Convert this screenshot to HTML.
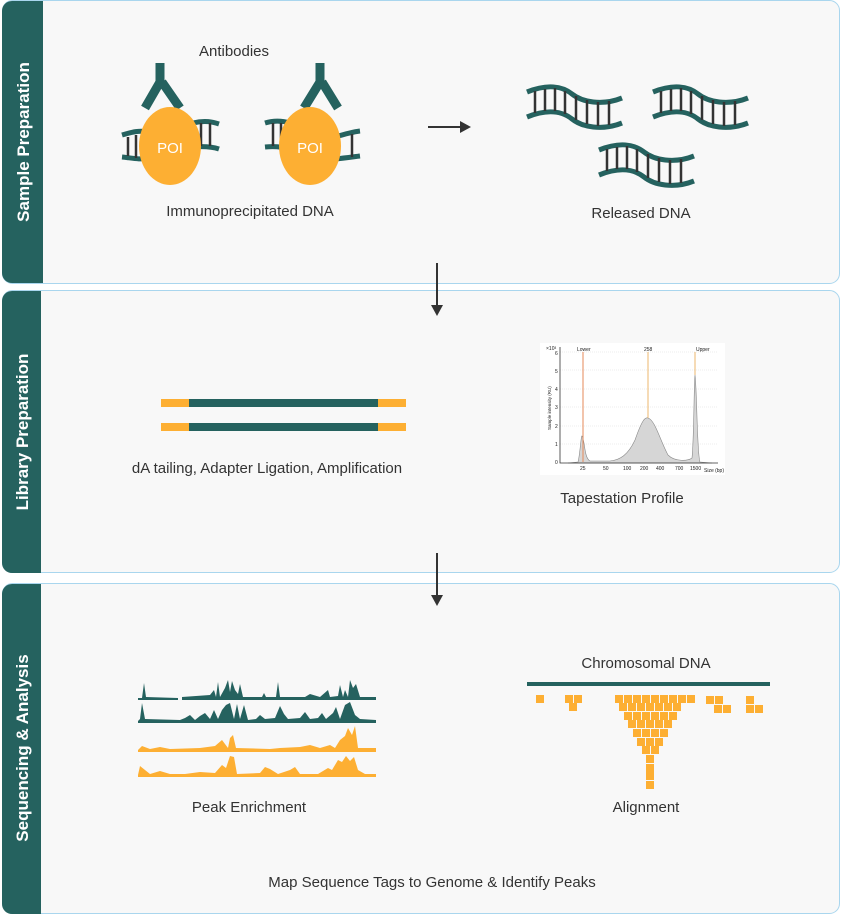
<!DOCTYPE html>
<html><head><meta charset="utf-8"><style>
body{margin:0;background:#fff;width:841px;height:915px;overflow:hidden;font-family:"Liberation Sans",sans-serif}
svg text{font-family:"Liberation Sans",sans-serif}
</style></head><body>
<svg width="841" height="915" viewBox="0 0 841 915" xmlns="http://www.w3.org/2000/svg">
<defs>
<g id="dna">
<path d="M0,8 C20,0 35,2 45,10 S75,22 95,14" fill="none" stroke="#25625f" stroke-width="5"/>
<path d="M0,33 C20,25 35,27 45,35 S75,47 95,39" fill="none" stroke="#25625f" stroke-width="5"/>
<g stroke="#333" stroke-width="2.5">
<line x1="8" y1="7" x2="8" y2="29"/><line x1="18" y1="5" x2="18" y2="27"/><line x1="28" y1="4" x2="28" y2="27"/><line x1="38" y1="7" x2="38" y2="30"/><line x1="49" y1="12" x2="49" y2="36"/><line x1="60" y1="16" x2="60" y2="40"/><line x1="71" y1="18" x2="71" y2="42"/><line x1="82" y1="17" x2="82" y2="41"/>
</g></g>
</defs>
<!-- panels -->
<g stroke="#a9d6ee" stroke-width="1" fill="#f8f8f8">
<rect x="2.5" y="0.5" width="837" height="283" rx="10"/>
<rect x="2.5" y="290.5" width="837" height="282" rx="10"/>
<rect x="2.5" y="583.5" width="837" height="330" rx="10"/>
</g>
<g fill="#25625f">
<path d="M12,1 H43 V283 H12 A10,10 0 0 1 2,273 V11 A10,10 0 0 1 12,1Z"/>
<path d="M12,291 H41 V573 H12 A10,10 0 0 1 2,563 V301 A10,10 0 0 1 12,291Z"/>
<path d="M12,584 H41 V914 H12 A10,10 0 0 1 2,904 V594 A10,10 0 0 1 12,584Z"/>
</g>
<g fill="#fff" font-weight="bold" font-size="17" text-anchor="middle">
<text transform="translate(29,142) rotate(-90)">Sample Preparation</text>
<text transform="translate(28,432) rotate(-90)">Library Preparation</text>
<text transform="translate(28,748) rotate(-90)">Sequencing &amp; Analysis</text>
</g>
<!-- sample prep -->
<g fill="#333" font-size="15" text-anchor="middle">
<text x="234" y="56">Antibodies</text>
<text x="250" y="216">Immunoprecipitated DNA</text>
<text x="641" y="218">Released DNA</text>
<text x="267" y="473">dA tailing, Adapter Ligation, Amplification</text>
<text x="622" y="503">Tapestation Profile</text>
<text x="249" y="812">Peak Enrichment</text>
<text x="646" y="812">Alignment</text>
<text x="646" y="668">Chromosomal DNA</text>
<text x="432" y="887">Map Sequence Tags to Genome &amp; Identify Peaks</text>
</g>
<!-- antibody complexes -->
<g id="c1">
<path d="M122,135 C132,132 140,130 148,132 M122,157 C132,158 140,160 148,158" stroke="#25625f" stroke-width="5" fill="none"/>
<path d="M128,137 V156 M136,135 V158" stroke="#333" stroke-width="2.5"/>
<path d="M193,123 C205,120 213,122 219,124 M193,147 C205,146 213,147 219,149" stroke="#25625f" stroke-width="5" fill="none"/>
<path d="M201,123 V146 M210,123 V146" stroke="#333" stroke-width="2.5"/>
<path d="M160,63 V82 L145,108 M162,82 L180,108" stroke="#25625f" stroke-width="9" fill="none"/>
<ellipse cx="170" cy="146" rx="31" ry="39" fill="#fdaf33"/>
<text x="170" y="153" fill="#fff" font-size="15" text-anchor="middle">POI</text>
</g>
<g>
<path d="M265,123 C275,120 283,121 290,123 M265,147 C275,146 283,147 290,149" stroke="#25625f" stroke-width="5" fill="none"/>
<path d="M273,123 V146 M281,123 V146" stroke="#333" stroke-width="2.5"/>
<path d="M335,137 C345,134 352,132 360,131 M335,159 C345,158 352,157 360,156" stroke="#25625f" stroke-width="5" fill="none"/>
<path d="M352,134 V157" stroke="#333" stroke-width="2.5"/>
<path d="M320,63 V82 L304,108 M322,82 L338,108" stroke="#25625f" stroke-width="9" fill="none"/>
<ellipse cx="310" cy="146" rx="31" ry="39" fill="#fdaf33"/>
<text x="310" y="153" fill="#fff" font-size="15" text-anchor="middle">POI</text>
</g>
<!-- arrows -->
<g stroke="#333" stroke-width="2" fill="#333">
<line x1="428" y1="127" x2="462" y2="127"/><path d="M471,127 L460,121 L460,133Z" stroke="none"/>
<line x1="437" y1="263" x2="437" y2="308"/><path d="M437,316 L431,305 L443,305Z" stroke="none"/>
<line x1="437" y1="553" x2="437" y2="598"/><path d="M437,606 L431,595 L443,595Z" stroke="none"/>
</g>
<use href="#dna" x="527" y="84"/>
<use href="#dna" x="653" y="84"/>
<use href="#dna" x="599" y="142"/>
<!-- library -->
<g>
<rect x="161" y="399" width="245" height="8" fill="#25625f"/>
<rect x="161" y="399" width="28" height="8" fill="#fdaf33"/><rect x="378" y="399" width="28" height="8" fill="#fdaf33"/>
<rect x="161" y="423" width="245" height="8" fill="#25625f"/>
<rect x="161" y="423" width="28" height="8" fill="#fdaf33"/><rect x="378" y="423" width="28" height="8" fill="#fdaf33"/>
</g>
<!-- tapestation -->
<g font-size="5" fill="#222">
<rect x="540" y="343" width="185" height="132" fill="#fff"/>
<g stroke="#ddd" stroke-width="0.5" stroke-dasharray="1,1">
<line x1="560" y1="352" x2="718" y2="352"/><line x1="560" y1="370" x2="718" y2="370"/><line x1="560" y1="389" x2="718" y2="389"/><line x1="560" y1="407" x2="718" y2="407"/><line x1="560" y1="426" x2="718" y2="426"/><line x1="560" y1="444" x2="718" y2="444"/>
</g>
<path d="M568,463 L578,462 C580,455 581,435 582,436 C585,440 584,458 590,461 L610,461 C620,460 628,455 635,440 C642,420 645,417 648,418 C655,420 660,440 668,455 C675,462 688,461 692,458 C694,440 694,380 695,375 C697,390 697,455 700,462 L712,463Z" fill="#d6d6d6" stroke="#888" stroke-width="0.6"/>
<line x1="583" y1="352" x2="583" y2="462" stroke="#e58a5a" stroke-width="1"/>
<line x1="648" y1="352" x2="648" y2="418" stroke="#e8a54a" stroke-width="0.8"/>
<line x1="695" y1="352" x2="695" y2="375" stroke="#e8a54a" stroke-width="0.8"/>
<path d="M560,347 V463 H718" fill="none" stroke="#333" stroke-width="0.8"/>
<text x="577" y="351">Lower</text><text x="644" y="351">258</text><text x="696" y="351">Upper</text>
<text x="546" y="350">×10³</text>
<text x="555" y="355">6</text><text x="555" y="373">5</text><text x="555" y="391">4</text><text x="555" y="409">3</text><text x="555" y="428">2</text><text x="555" y="446">1</text><text x="555" y="464">0</text>
<text transform="translate(551,430) rotate(-90)" font-size="4.5">Sample intensity (RU)</text>
<text x="704" y="472">Size (bp)</text>
<text x="580" y="470">25</text><text x="603" y="470">50</text><text x="623" y="470">100</text><text x="640" y="470">200</text><text x="656" y="470">400</text><text x="675" y="470">700</text><text x="690" y="470">1500</text>
</g>
<!-- peaks -->
<g fill="#25625f">
<path d="M138,698 L142,698 L144,683 L146,697 L178,698 L178,700 L138,700Z"/>
<path d="M182,697 L210,695 L214,690 L216,697 L218,682 L220,697 L225,688 L228,680 L230,692 L232,681 L235,690 L238,694 L240,684 L243,697 L262,697 L264,693 L266,697 L276,697 L278,682 L280,697 L305,697 L310,694 L320,697 L328,690 L330,697 L338,696 L340,685 L343,697 L345,690 L348,697 L350,680 L353,688 L356,684 L360,697 L376,697 L376,700 L182,700Z"/>
<path d="M138,721 L140,719 L142,703 L145,719 L180,720 L185,718 L190,715 L195,720 L200,716 L205,713 L210,719 L214,710 L218,719 L222,710 L226,705 L230,703 L234,719 L237,704 L240,719 L244,705 L248,720 L256,719 L260,715 L265,719 L275,718 L280,706 L284,714 L288,719 L300,718 L305,712 L310,719 L318,718 L322,713 L326,719 L333,713 L336,707 L340,719 L345,705 L350,702 L355,715 L360,719 L376,720 L376,723 L138,723Z"/>
</g>
<g fill="#fdaf33">
<path d="M138,750 L142,746 L150,749 L160,747 L170,749 L200,748 L215,746 L222,740 L228,748 L230,738 L233,735 L236,748 L270,749 L280,748 L300,747 L310,745 L320,748 L330,745 L335,748 L340,740 L345,736 L348,728 L352,735 L355,726 L358,748 L376,748 L376,752 L138,752Z"/>
<path d="M138,775 L140,766 L145,770 L150,774 L160,771 L170,774 L185,774 L200,772 L215,773 L222,765 L226,768 L230,756 L234,757 L237,774 L260,773 L265,767 L270,769 L278,774 L290,770 L295,767 L300,774 L318,774 L328,768 L332,770 L338,760 L342,762 L346,756 L350,761 L354,757 L358,770 L365,774 L376,774 L376,777 L138,777Z"/>
</g>
<!-- alignment -->
<rect x="527" y="682" width="243" height="4" fill="#25625f"/>
<g fill="#fdaf33">
<rect x="536" y="695" width="8" height="8"/>
<rect x="565" y="695" width="8" height="8"/><rect x="574" y="695" width="8" height="8"/><rect x="569" y="703" width="8" height="8"/>
<rect x="706" y="696" width="8" height="8"/><rect x="715" y="696" width="8" height="8"/><rect x="714" y="705" width="8" height="8"/><rect x="723" y="705" width="8" height="8"/>
<rect x="746" y="696" width="8" height="8"/><rect x="746" y="705" width="8" height="8"/><rect x="755" y="705" width="8" height="8"/>
</g>
<g fill="#fdaf33" id="funnel">
<rect x="615" y="695" width="8" height="8"/><rect x="624" y="695" width="8" height="8"/><rect x="633" y="695" width="8" height="8"/><rect x="642" y="695" width="8" height="8"/><rect x="651" y="695" width="8" height="8"/><rect x="660" y="695" width="8" height="8"/><rect x="669" y="695" width="8" height="8"/><rect x="678" y="695" width="8" height="8"/><rect x="687" y="695" width="8" height="8"/>
<rect x="619" y="703" width="8" height="8"/><rect x="628" y="703" width="8" height="8"/><rect x="637" y="703" width="8" height="8"/><rect x="646" y="703" width="8" height="8"/><rect x="655" y="703" width="8" height="8"/><rect x="664" y="703" width="8" height="8"/><rect x="673" y="703" width="8" height="8"/>
<rect x="624" y="712" width="8" height="8"/><rect x="633" y="712" width="8" height="8"/><rect x="642" y="712" width="8" height="8"/><rect x="651" y="712" width="8" height="8"/><rect x="660" y="712" width="8" height="8"/><rect x="669" y="712" width="8" height="8"/>
<rect x="628" y="720" width="8" height="8"/><rect x="637" y="720" width="8" height="8"/><rect x="646" y="720" width="8" height="8"/><rect x="655" y="720" width="8" height="8"/><rect x="664" y="720" width="8" height="8"/>
<rect x="633" y="729" width="8" height="8"/><rect x="642" y="729" width="8" height="8"/><rect x="651" y="729" width="8" height="8"/><rect x="660" y="729" width="8" height="8"/>
<rect x="637" y="738" width="8" height="8"/><rect x="646" y="738" width="8" height="8"/><rect x="655" y="738" width="8" height="8"/>
<rect x="642" y="746" width="8" height="8"/><rect x="651" y="746" width="8" height="8"/>
<rect x="646" y="755" width="8" height="8"/><rect x="646" y="764" width="8" height="8"/><rect x="646" y="772" width="8" height="8"/><rect x="646" y="781" width="8" height="8"/>
</g>
</svg>
</body></html>
